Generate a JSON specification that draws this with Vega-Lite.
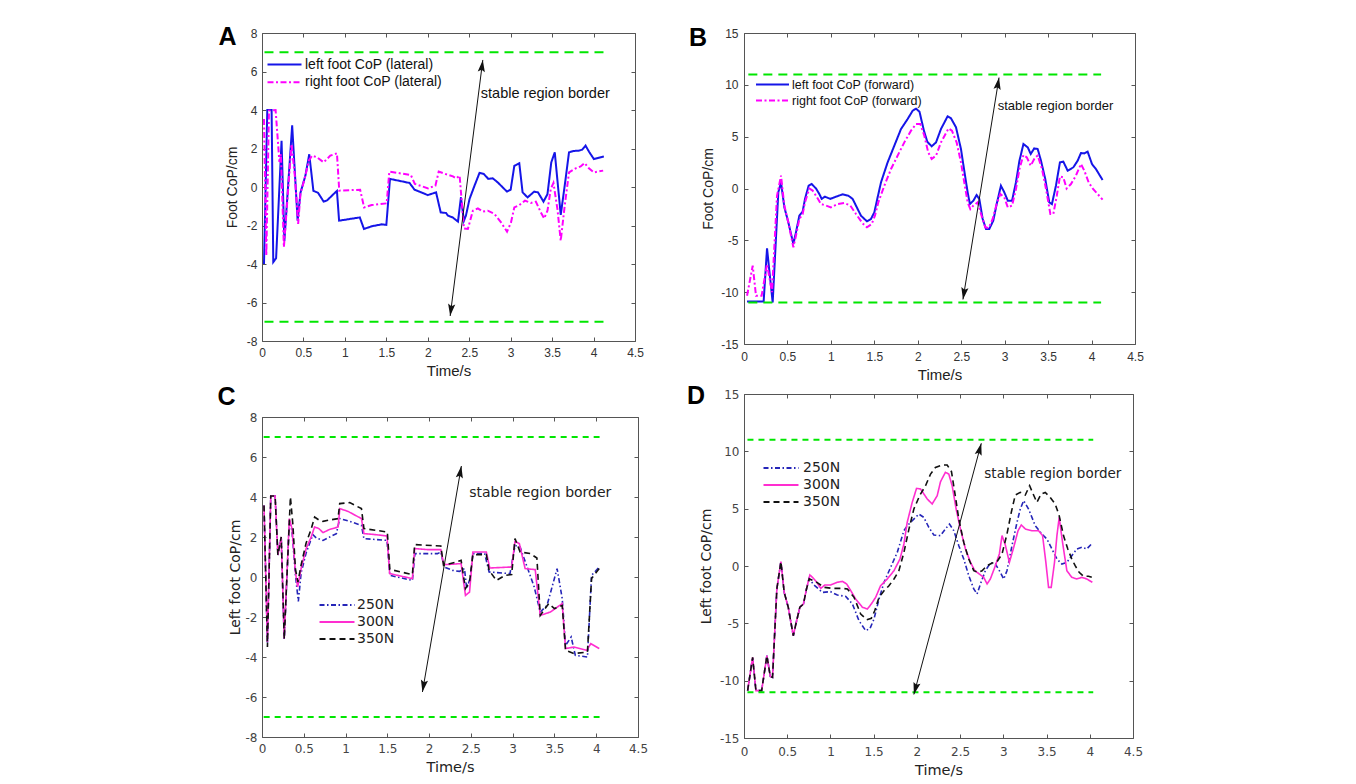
{
"$schema": "https://vega.github.io/schema/vega-lite/v6.json",
"background": "white",
"padding": {"left": 216, "top": 24, "right": 0, "bottom": 0},
"config": {"view": {"stroke": "#555", "strokeWidth": 1}, "axis": {"grid": false, "domain": false, "tickSize": -4, "tickColor": "#555", "tickWidth": 1, "labelFlush": false, "labelOverlap": false, "labelColor": "#333", "titleFontWeight": "normal", "titleColor": "#222", "labelFontSize": 12}},
"spacing": 37,
"resolve": {"scale": {"x": "independent", "y": "independent", "color": "independent", "strokeDash": "independent"}},
"datasets": {
"A": [
{"series":"left foot CoP (lateral)","t":0.024,"v":-4.0},{"series":"left foot CoP (lateral)","t":0.064,"v":4.0},{"series":"left foot CoP (lateral)","t":0.116,"v":4.0},{"series":"left foot CoP (lateral)","t":0.136,"v":-3.9},{"series":"left foot CoP (lateral)","t":0.17,"v":-3.7},{"series":"left foot CoP (lateral)","t":0.236,"v":2.4},{"series":"left foot CoP (lateral)","t":0.27,"v":-2.8},{"series":"left foot CoP (lateral)","t":0.364,"v":3.2},{"series":"left foot CoP (lateral)","t":0.43,"v":-1.75},{"series":"left foot CoP (lateral)","t":0.464,"v":-0.3},{"series":"left foot CoP (lateral)","t":0.524,"v":0.6},{"series":"left foot CoP (lateral)","t":0.57,"v":1.7},{"series":"left foot CoP (lateral)","t":0.62,"v":-0.2},{"series":"left foot CoP (lateral)","t":0.676,"v":-0.3},{"series":"left foot CoP (lateral)","t":0.744,"v":-0.76},{"series":"left foot CoP (lateral)","t":0.784,"v":-0.7},{"series":"left foot CoP (lateral)","t":0.904,"v":-0.2},{"series":"left foot CoP (lateral)","t":0.93,"v":-1.75},{"series":"left foot CoP (lateral)","t":1.18,"v":-1.58},{"series":"left foot CoP (lateral)","t":1.23,"v":-2.18},{"series":"left foot CoP (lateral)","t":1.324,"v":-2.04},{"series":"left foot CoP (lateral)","t":1.444,"v":-1.94},{"series":"left foot CoP (lateral)","t":1.5,"v":-1.97},{"series":"left foot CoP (lateral)","t":1.544,"v":0.42},{"series":"left foot CoP (lateral)","t":1.78,"v":0.21},{"series":"left foot CoP (lateral)","t":1.84,"v":-0.14},{"series":"left foot CoP (lateral)","t":2.0,"v":-0.42},{"series":"left foot CoP (lateral)","t":2.1,"v":-0.28},{"series":"left foot CoP (lateral)","t":2.156,"v":-1.32},{"series":"left foot CoP (lateral)","t":2.22,"v":-1.35},{"series":"left foot CoP (lateral)","t":2.244,"v":-1.49},{"series":"left foot CoP (lateral)","t":2.3,"v":-1.58},{"series":"left foot CoP (lateral)","t":2.364,"v":-1.8},{"series":"left foot CoP (lateral)","t":2.4,"v":-0.54},{"series":"left foot CoP (lateral)","t":2.436,"v":-1.75},{"series":"left foot CoP (lateral)","t":2.46,"v":-1.49},{"series":"left foot CoP (lateral)","t":2.504,"v":-0.62},{"series":"left foot CoP (lateral)","t":2.564,"v":0.07},{"series":"left foot CoP (lateral)","t":2.624,"v":0.73},{"series":"left foot CoP (lateral)","t":2.676,"v":0.68},{"series":"left foot CoP (lateral)","t":2.73,"v":0.42},{"series":"left foot CoP (lateral)","t":2.784,"v":0.45},{"series":"left foot CoP (lateral)","t":2.844,"v":0.24},{"series":"left foot CoP (lateral)","t":2.904,"v":-0.02},{"series":"left foot CoP (lateral)","t":2.956,"v":-0.24},{"series":"left foot CoP (lateral)","t":3.0,"v":-0.14},{"series":"left foot CoP (lateral)","t":3.044,"v":1.1},{"series":"left foot CoP (lateral)","t":3.104,"v":1.23},{"series":"left foot CoP (lateral)","t":3.144,"v":-0.28},{"series":"left foot CoP (lateral)","t":3.204,"v":-0.54},{"series":"left foot CoP (lateral)","t":3.284,"v":-0.24},{"series":"left foot CoP (lateral)","t":3.33,"v":-0.28},{"series":"left foot CoP (lateral)","t":3.396,"v":-0.76},{"series":"left foot CoP (lateral)","t":3.444,"v":-0.37},{"series":"left foot CoP (lateral)","t":3.49,"v":1.28},{"series":"left foot CoP (lateral)","t":3.532,"v":1.8},{"series":"left foot CoP (lateral)","t":3.604,"v":-1.45},{"series":"left foot CoP (lateral)","t":3.652,"v":0.07},{"series":"left foot CoP (lateral)","t":3.704,"v":1.8},{"series":"left foot CoP (lateral)","t":3.756,"v":1.87},{"series":"left foot CoP (lateral)","t":3.824,"v":1.89},{"series":"left foot CoP (lateral)","t":3.864,"v":1.94},{"series":"left foot CoP (lateral)","t":3.904,"v":2.15},{"series":"left foot CoP (lateral)","t":3.944,"v":1.84},{"series":"left foot CoP (lateral)","t":4.004,"v":1.45},{"series":"left foot CoP (lateral)","t":4.124,"v":1.59},
{"series":"right foot CoP (lateral)","t":0.024,"v":3.53},{"series":"right foot CoP (lateral)","t":0.052,"v":-3.57},{"series":"right foot CoP (lateral)","t":0.084,"v":3.97},{"series":"right foot CoP (lateral)","t":0.164,"v":4.0},{"series":"right foot CoP (lateral)","t":0.21,"v":1.3},{"series":"right foot CoP (lateral)","t":0.228,"v":1.7},{"series":"right foot CoP (lateral)","t":0.264,"v":-3.13},{"series":"right foot CoP (lateral)","t":0.316,"v":-0.1},{"series":"right foot CoP (lateral)","t":0.356,"v":2.23},{"series":"right foot CoP (lateral)","t":0.396,"v":0.59},{"series":"right foot CoP (lateral)","t":0.436,"v":-1.92},{"series":"right foot CoP (lateral)","t":0.464,"v":-0.36},{"series":"right foot CoP (lateral)","t":0.524,"v":0.59},{"series":"right foot CoP (lateral)","t":0.564,"v":1.37},{"series":"right foot CoP (lateral)","t":0.604,"v":1.63},{"series":"right foot CoP (lateral)","t":0.664,"v":1.54},{"series":"right foot CoP (lateral)","t":0.744,"v":1.28},{"series":"right foot CoP (lateral)","t":0.824,"v":1.63},{"series":"right foot CoP (lateral)","t":0.904,"v":1.75},{"series":"right foot CoP (lateral)","t":0.932,"v":-0.19},{"series":"right foot CoP (lateral)","t":1.184,"v":-0.14},{"series":"right foot CoP (lateral)","t":1.232,"v":-1.06},{"series":"right foot CoP (lateral)","t":1.324,"v":-0.94},{"series":"right foot CoP (lateral)","t":1.504,"v":-0.85},{"series":"right foot CoP (lateral)","t":1.536,"v":0.8},{"series":"right foot CoP (lateral)","t":1.796,"v":0.62},{"series":"right foot CoP (lateral)","t":1.844,"v":0.16},{"series":"right foot CoP (lateral)","t":2.004,"v":-0.07},{"series":"right foot CoP (lateral)","t":2.092,"v":0.07},{"series":"right foot CoP (lateral)","t":2.132,"v":0.8},{"series":"right foot CoP (lateral)","t":2.224,"v":0.66},{"series":"right foot CoP (lateral)","t":2.304,"v":0.55},{"series":"right foot CoP (lateral)","t":2.344,"v":0.45},{"series":"right foot CoP (lateral)","t":2.384,"v":0.59},{"series":"right foot CoP (lateral)","t":2.436,"v":-2.15},{"series":"right foot CoP (lateral)","t":2.484,"v":-2.18},{"series":"right foot CoP (lateral)","t":2.544,"v":-1.23},{"series":"right foot CoP (lateral)","t":2.604,"v":-1.11},{"series":"right foot CoP (lateral)","t":2.664,"v":-1.28},{"series":"right foot CoP (lateral)","t":2.724,"v":-1.23},{"series":"right foot CoP (lateral)","t":2.804,"v":-1.4},{"series":"right foot CoP (lateral)","t":2.884,"v":-1.84},{"series":"right foot CoP (lateral)","t":2.956,"v":-2.32},{"series":"right foot CoP (lateral)","t":3.004,"v":-1.84},{"series":"right foot CoP (lateral)","t":3.044,"v":-1.06},{"series":"right foot CoP (lateral)","t":3.104,"v":-0.94},{"series":"right foot CoP (lateral)","t":3.172,"v":-0.71},{"series":"right foot CoP (lateral)","t":3.244,"v":-0.83},{"series":"right foot CoP (lateral)","t":3.304,"v":-0.76},{"series":"right foot CoP (lateral)","t":3.364,"v":-1.32},{"series":"right foot CoP (lateral)","t":3.404,"v":-1.63},{"series":"right foot CoP (lateral)","t":3.444,"v":-1.23},{"series":"right foot CoP (lateral)","t":3.484,"v":-0.1},{"series":"right foot CoP (lateral)","t":3.516,"v":0.21},{"series":"right foot CoP (lateral)","t":3.564,"v":-1.14},{"series":"right foot CoP (lateral)","t":3.604,"v":-2.79},{"series":"right foot CoP (lateral)","t":3.652,"v":-0.97},{"series":"right foot CoP (lateral)","t":3.704,"v":0.76},{"series":"right foot CoP (lateral)","t":3.784,"v":0.97},{"series":"right foot CoP (lateral)","t":3.844,"v":1.07},{"series":"right foot CoP (lateral)","t":3.892,"v":1.25},{"series":"right foot CoP (lateral)","t":3.944,"v":0.97},{"series":"right foot CoP (lateral)","t":4.004,"v":0.76},{"series":"right foot CoP (lateral)","t":4.116,"v":0.85}
],
"B": [
{"series":"left foot CoP (forward)","t":0.035,"v":-10.9},{"series":"left foot CoP (forward)","t":0.226,"v":-10.9},{"series":"left foot CoP (forward)","t":0.265,"v":-5.77},{"series":"left foot CoP (forward)","t":0.33,"v":-11.0},{"series":"left foot CoP (forward)","t":0.395,"v":-0.37},{"series":"left foot CoP (forward)","t":0.426,"v":0.6},{"series":"left foot CoP (forward)","t":0.464,"v":-1.8},{"series":"left foot CoP (forward)","t":0.51,"v":-3.26},{"series":"left foot CoP (forward)","t":0.568,"v":-5.35},{"series":"left foot CoP (forward)","t":0.598,"v":-4.23},{"series":"left foot CoP (forward)","t":0.637,"v":-2.62},{"series":"left foot CoP (forward)","t":0.675,"v":-2.23},{"series":"left foot CoP (forward)","t":0.702,"v":-1.0},{"series":"left foot CoP (forward)","t":0.744,"v":0.27},{"series":"left foot CoP (forward)","t":0.779,"v":0.43},{"series":"left foot CoP (forward)","t":0.829,"v":0.0},{"series":"left foot CoP (forward)","t":0.867,"v":-0.53},{"series":"left foot CoP (forward)","t":0.894,"v":-1.0},{"series":"left foot CoP (forward)","t":0.932,"v":-0.79},{"series":"left foot CoP (forward)","t":0.993,"v":-1.0},{"series":"left foot CoP (forward)","t":1.059,"v":-0.79},{"series":"left foot CoP (forward)","t":1.135,"v":-0.56},{"series":"left foot CoP (forward)","t":1.2,"v":-0.69},{"series":"left foot CoP (forward)","t":1.25,"v":-1.0},{"series":"left foot CoP (forward)","t":1.289,"v":-1.66},{"series":"left foot CoP (forward)","t":1.346,"v":-2.62},{"series":"left foot CoP (forward)","t":1.415,"v":-3.17},{"series":"left foot CoP (forward)","t":1.461,"v":-2.94},{"series":"left foot CoP (forward)","t":1.5,"v":-2.3},{"series":"left foot CoP (forward)","t":1.538,"v":-0.85},{"series":"left foot CoP (forward)","t":1.577,"v":0.6},{"series":"left foot CoP (forward)","t":1.653,"v":2.52},{"series":"left foot CoP (forward)","t":1.73,"v":4.13},{"series":"left foot CoP (forward)","t":1.807,"v":5.74},{"series":"left foot CoP (forward)","t":1.883,"v":6.7},{"series":"left foot CoP (forward)","t":1.941,"v":7.5},{"series":"left foot CoP (forward)","t":1.98,"v":7.7},{"series":"left foot CoP (forward)","t":2.02,"v":7.4},{"series":"left foot CoP (forward)","t":2.07,"v":5.6},{"series":"left foot CoP (forward)","t":2.11,"v":4.5},{"series":"left foot CoP (forward)","t":2.16,"v":4.07},{"series":"left foot CoP (forward)","t":2.21,"v":4.45},{"series":"left foot CoP (forward)","t":2.267,"v":5.74},{"series":"left foot CoP (forward)","t":2.343,"v":6.96},{"series":"left foot CoP (forward)","t":2.382,"v":6.77},{"series":"left foot CoP (forward)","t":2.44,"v":5.9},{"series":"left foot CoP (forward)","t":2.497,"v":3.81},{"series":"left foot CoP (forward)","t":2.535,"v":1.72},{"series":"left foot CoP (forward)","t":2.574,"v":-0.37},{"series":"left foot CoP (forward)","t":2.6,"v":-1.5},{"series":"left foot CoP (forward)","t":2.64,"v":-1.17},{"series":"left foot CoP (forward)","t":2.677,"v":-0.63},{"series":"left foot CoP (forward)","t":2.708,"v":-1.01},{"series":"left foot CoP (forward)","t":2.747,"v":-2.94},{"series":"left foot CoP (forward)","t":2.785,"v":-3.9},{"series":"left foot CoP (forward)","t":2.823,"v":-3.9},{"series":"left foot CoP (forward)","t":2.869,"v":-3.1},{"series":"left foot CoP (forward)","t":2.908,"v":-1.5},{"series":"left foot CoP (forward)","t":2.957,"v":0.27},{"series":"left foot CoP (forward)","t":2.996,"v":-0.37},{"series":"left foot CoP (forward)","t":3.036,"v":-1.17},{"series":"left foot CoP (forward)","t":3.085,"v":-1.17},{"series":"left foot CoP (forward)","t":3.13,"v":0.6},{"series":"left foot CoP (forward)","t":3.17,"v":2.68},{"series":"left foot CoP (forward)","t":3.216,"v":4.29},{"series":"left foot CoP (forward)","t":3.266,"v":3.97},{"series":"left foot CoP (forward)","t":3.3,"v":3.33},{"series":"left foot CoP (forward)","t":3.34,"v":3.87},{"series":"left foot CoP (forward)","t":3.38,"v":3.81},{"series":"left foot CoP (forward)","t":3.418,"v":2.68},{"series":"left foot CoP (forward)","t":3.467,"v":0.92},{"series":"left foot CoP (forward)","t":3.513,"v":-1.33},{"series":"left foot CoP (forward)","t":3.544,"v":-1.5},{"series":"left foot CoP (forward)","t":3.59,"v":0.27},{"series":"left foot CoP (forward)","t":3.636,"v":2.52},{"series":"left foot CoP (forward)","t":3.675,"v":2.59},{"series":"left foot CoP (forward)","t":3.725,"v":1.72},{"series":"left foot CoP (forward)","t":3.79,"v":2.04},{"series":"left foot CoP (forward)","t":3.84,"v":2.68},{"series":"left foot CoP (forward)","t":3.878,"v":3.42},{"series":"left foot CoP (forward)","t":3.917,"v":3.39},{"series":"left foot CoP (forward)","t":3.955,"v":3.55},{"series":"left foot CoP (forward)","t":4.005,"v":2.36},{"series":"left foot CoP (forward)","t":4.05,"v":1.88},{"series":"left foot CoP (forward)","t":4.127,"v":0.82},
{"series":"right foot CoP (forward)","t":0.035,"v":-10.34},{"series":"right foot CoP (forward)","t":0.1,"v":-7.45},{"series":"right foot CoP (forward)","t":0.138,"v":-10.34},{"series":"right foot CoP (forward)","t":0.203,"v":-10.34},{"series":"right foot CoP (forward)","t":0.265,"v":-7.3},{"series":"right foot CoP (forward)","t":0.322,"v":-10.0},{"series":"right foot CoP (forward)","t":0.38,"v":-0.7},{"series":"right foot CoP (forward)","t":0.426,"v":1.24},{"series":"right foot CoP (forward)","t":0.464,"v":-1.65},{"series":"right foot CoP (forward)","t":0.51,"v":-3.26},{"series":"right foot CoP (forward)","t":0.568,"v":-5.67},{"series":"right foot CoP (forward)","t":0.598,"v":-4.55},{"series":"right foot CoP (forward)","t":0.637,"v":-2.94},{"series":"right foot CoP (forward)","t":0.675,"v":-2.46},{"series":"right foot CoP (forward)","t":0.702,"v":-1.33},{"series":"right foot CoP (forward)","t":0.752,"v":0.0},{"series":"right foot CoP (forward)","t":0.79,"v":-0.2},{"series":"right foot CoP (forward)","t":0.84,"v":-0.85},{"series":"right foot CoP (forward)","t":0.886,"v":-1.5},{"series":"right foot CoP (forward)","t":0.944,"v":-1.65},{"series":"right foot CoP (forward)","t":1.0,"v":-1.82},{"series":"right foot CoP (forward)","t":1.078,"v":-1.5},{"series":"right foot CoP (forward)","t":1.155,"v":-1.4},{"series":"right foot CoP (forward)","t":1.224,"v":-1.65},{"series":"right foot CoP (forward)","t":1.289,"v":-2.46},{"series":"right foot CoP (forward)","t":1.365,"v":-3.36},{"series":"right foot CoP (forward)","t":1.415,"v":-3.74},{"series":"right foot CoP (forward)","t":1.47,"v":-3.42},{"series":"right foot CoP (forward)","t":1.507,"v":-2.62},{"series":"right foot CoP (forward)","t":1.546,"v":-1.33},{"series":"right foot CoP (forward)","t":1.615,"v":0.27},{"series":"right foot CoP (forward)","t":1.692,"v":1.88},{"series":"right foot CoP (forward)","t":1.768,"v":3.17},{"series":"right foot CoP (forward)","t":1.845,"v":4.45},{"series":"right foot CoP (forward)","t":1.922,"v":5.58},{"series":"right foot CoP (forward)","t":1.98,"v":6.22},{"series":"right foot CoP (forward)","t":2.03,"v":6.22},{"series":"right foot CoP (forward)","t":2.075,"v":5.1},{"series":"right foot CoP (forward)","t":2.12,"v":3.49},{"series":"right foot CoP (forward)","t":2.16,"v":2.85},{"series":"right foot CoP (forward)","t":2.21,"v":3.17},{"series":"right foot CoP (forward)","t":2.267,"v":4.45},{"series":"right foot CoP (forward)","t":2.354,"v":5.8},{"series":"right foot CoP (forward)","t":2.393,"v":5.58},{"series":"right foot CoP (forward)","t":2.447,"v":4.45},{"series":"right foot CoP (forward)","t":2.497,"v":2.52},{"series":"right foot CoP (forward)","t":2.535,"v":0.6},{"series":"right foot CoP (forward)","t":2.574,"v":-1.33},{"series":"right foot CoP (forward)","t":2.605,"v":-1.98},{"series":"right foot CoP (forward)","t":2.64,"v":-1.65},{"series":"right foot CoP (forward)","t":2.69,"v":-1.33},{"series":"right foot CoP (forward)","t":2.728,"v":-2.46},{"series":"right foot CoP (forward)","t":2.777,"v":-3.74},{"series":"right foot CoP (forward)","t":2.816,"v":-3.81},{"series":"right foot CoP (forward)","t":2.862,"v":-2.94},{"series":"right foot CoP (forward)","t":2.908,"v":-1.5},{"series":"right foot CoP (forward)","t":2.95,"v":-0.53},{"series":"right foot CoP (forward)","t":2.996,"v":-0.85},{"series":"right foot CoP (forward)","t":3.036,"v":-1.82},{"series":"right foot CoP (forward)","t":3.085,"v":-1.65},{"series":"right foot CoP (forward)","t":3.13,"v":-0.05},{"series":"right foot CoP (forward)","t":3.17,"v":1.88},{"series":"right foot CoP (forward)","t":3.216,"v":3.23},{"series":"right foot CoP (forward)","t":3.255,"v":3.0},{"series":"right foot CoP (forward)","t":3.3,"v":2.2},{"series":"right foot CoP (forward)","t":3.35,"v":3.0},{"series":"right foot CoP (forward)","t":3.38,"v":3.17},{"series":"right foot CoP (forward)","t":3.43,"v":1.88},{"series":"right foot CoP (forward)","t":3.476,"v":-0.05},{"series":"right foot CoP (forward)","t":3.526,"v":-2.46},{"series":"right foot CoP (forward)","t":3.56,"v":-2.46},{"series":"right foot CoP (forward)","t":3.6,"v":-0.69},{"series":"right foot CoP (forward)","t":3.636,"v":1.17},{"series":"right foot CoP (forward)","t":3.675,"v":1.07},{"series":"right foot CoP (forward)","t":3.713,"v":0.0},{"series":"right foot CoP (forward)","t":3.763,"v":0.43},{"series":"right foot CoP (forward)","t":3.82,"v":1.24},{"series":"right foot CoP (forward)","t":3.878,"v":2.36},{"series":"right foot CoP (forward)","t":3.917,"v":1.72},{"series":"right foot CoP (forward)","t":3.966,"v":0.6},{"series":"right foot CoP (forward)","t":4.012,"v":0.0},{"series":"right foot CoP (forward)","t":4.07,"v":-0.53},{"series":"right foot CoP (forward)","t":4.127,"v":-1.08}
],
"C": [
{"series":"250N","t":0.024,"v":3.58},{"series":"250N","t":0.065,"v":-3.3},{"series":"250N","t":0.105,"v":4.05},{"series":"250N","t":0.157,"v":4.05},{"series":"250N","t":0.19,"v":1.1},{"series":"250N","t":0.23,"v":2.0},{"series":"250N","t":0.266,"v":-3.1},{"series":"250N","t":0.327,"v":2.8},{"series":"250N","t":0.359,"v":2.3},{"series":"250N","t":0.4,"v":0.1},{"series":"250N","t":0.435,"v":-1.22},{"series":"250N","t":0.468,"v":0.2},{"series":"250N","t":0.528,"v":1.2},{"series":"250N","t":0.609,"v":2.12},{"series":"250N","t":0.65,"v":1.95},{"series":"250N","t":0.73,"v":1.83},{"series":"250N","t":0.89,"v":2.17},{"series":"250N","t":0.93,"v":2.92},{"series":"250N","t":1.05,"v":2.78},{"series":"250N","t":1.19,"v":2.58},{"series":"250N","t":1.22,"v":1.92},{"series":"250N","t":1.496,"v":1.83},{"series":"250N","t":1.53,"v":0.08},{"series":"250N","t":1.8,"v":-0.17},{"series":"250N","t":1.83,"v":1.17},{"series":"250N","t":2.1,"v":1.17},{"series":"250N","t":2.14,"v":1.25},{"series":"250N","t":2.18,"v":0.5},{"series":"250N","t":2.282,"v":0.33},{"series":"250N","t":2.363,"v":0.28},{"series":"250N","t":2.423,"v":0.42},{"series":"250N","t":2.45,"v":-0.58},{"series":"250N","t":2.49,"v":-0.08},{"series":"250N","t":2.524,"v":1.17},{"series":"250N","t":2.665,"v":1.17},{"series":"250N","t":2.718,"v":0.25},{"series":"250N","t":2.968,"v":0.17},{"series":"250N","t":3.028,"v":1.58},{"series":"250N","t":3.089,"v":1.5},{"series":"250N","t":3.137,"v":0.92},{"series":"250N","t":3.169,"v":0.55},{"series":"250N","t":3.258,"v":-0.5},{"series":"250N","t":3.33,"v":-1.75},{"series":"250N","t":3.411,"v":-1.42},{"series":"250N","t":3.532,"v":0.42},{"series":"250N","t":3.593,"v":-1.08},{"series":"250N","t":3.633,"v":-3.42},{"series":"250N","t":3.7,"v":-3.0},{"series":"250N","t":3.75,"v":-3.92},{"series":"250N","t":3.895,"v":-4.0},{"series":"250N","t":3.944,"v":0.08},{"series":"250N","t":4.036,"v":0.5},
{"series":"300N","t":0.024,"v":3.58},{"series":"300N","t":0.065,"v":-3.25},{"series":"300N","t":0.105,"v":4.05},{"series":"300N","t":0.157,"v":4.05},{"series":"300N","t":0.19,"v":1.1},{"series":"300N","t":0.23,"v":2.0},{"series":"300N","t":0.266,"v":-3.08},{"series":"300N","t":0.327,"v":2.92},{"series":"300N","t":0.359,"v":2.42},{"series":"300N","t":0.4,"v":0.25},{"series":"300N","t":0.427,"v":-0.5},{"series":"300N","t":0.468,"v":0.42},{"series":"300N","t":0.528,"v":1.42},{"series":"300N","t":0.589,"v":2.0},{"series":"300N","t":0.629,"v":2.5},{"series":"300N","t":0.681,"v":2.42},{"series":"300N","t":0.73,"v":2.22},{"series":"300N","t":0.81,"v":2.38},{"series":"300N","t":0.911,"v":2.5},{"series":"300N","t":0.931,"v":3.42},{"series":"300N","t":1.03,"v":3.28},{"series":"300N","t":1.19,"v":2.92},{"series":"300N","t":1.22,"v":2.17},{"series":"300N","t":1.355,"v":2.12},{"series":"300N","t":1.496,"v":2.05},{"series":"300N","t":1.528,"v":0.17},{"series":"300N","t":1.657,"v":0.05},{"series":"300N","t":1.8,"v":-0.08},{"series":"300N","t":1.827,"v":1.42},{"series":"300N","t":1.98,"v":1.37},{"series":"300N","t":2.14,"v":1.37},{"series":"300N","t":2.173,"v":0.67},{"series":"300N","t":2.2,"v":0.62},{"series":"300N","t":2.383,"v":0.67},{"series":"300N","t":2.435,"v":-0.92},{"series":"300N","t":2.484,"v":-0.75},{"series":"300N","t":2.524,"v":1.25},{"series":"300N","t":2.685,"v":1.25},{"series":"300N","t":2.726,"v":0.45},{"series":"300N","t":2.988,"v":0.5},{"series":"300N","t":3.028,"v":1.78},{"series":"300N","t":3.08,"v":1.67},{"series":"300N","t":3.149,"v":0.42},{"series":"300N","t":3.27,"v":0.37},{"series":"300N","t":3.33,"v":-1.92},{"series":"300N","t":3.452,"v":-1.75},{"series":"300N","t":3.593,"v":-1.33},{"series":"300N","t":3.633,"v":-3.58},{"series":"300N","t":3.734,"v":-3.5},{"series":"300N","t":3.887,"v":-3.67},{"series":"300N","t":3.935,"v":-3.33},{"series":"300N","t":4.036,"v":-3.58},
{"series":"350N","t":0.024,"v":3.58},{"series":"350N","t":0.065,"v":-3.5},{"series":"350N","t":0.105,"v":4.05},{"series":"350N","t":0.157,"v":4.05},{"series":"350N","t":0.19,"v":1.1},{"series":"350N","t":0.23,"v":2.0},{"series":"350N","t":0.266,"v":-3.1},{"series":"350N","t":0.34,"v":4.0},{"series":"350N","t":0.37,"v":2.6},{"series":"350N","t":0.4,"v":0.4},{"series":"350N","t":0.43,"v":-0.25},{"series":"350N","t":0.468,"v":0.6},{"series":"350N","t":0.528,"v":1.7},{"series":"350N","t":0.589,"v":2.4},{"series":"350N","t":0.63,"v":3.0},{"series":"350N","t":0.681,"v":2.85},{"series":"350N","t":0.73,"v":2.78},{"series":"350N","t":0.81,"v":2.85},{"series":"350N","t":0.91,"v":2.92},{"series":"350N","t":0.93,"v":3.67},{"series":"350N","t":1.05,"v":3.72},{"series":"350N","t":1.19,"v":3.42},{"series":"350N","t":1.22,"v":2.42},{"series":"350N","t":1.5,"v":2.25},{"series":"350N","t":1.53,"v":0.38},{"series":"350N","t":1.8,"v":0.12},{"series":"350N","t":1.827,"v":1.62},{"series":"350N","t":2.14,"v":1.55},{"series":"350N","t":2.173,"v":0.58},{"series":"350N","t":2.323,"v":0.75},{"series":"350N","t":2.383,"v":0.83},{"series":"350N","t":2.435,"v":-0.58},{"series":"350N","t":2.484,"v":-0.25},{"series":"350N","t":2.524,"v":1.12},{"series":"350N","t":2.685,"v":1.12},{"series":"350N","t":2.718,"v":0.33},{"series":"350N","t":2.806,"v":-0.17},{"series":"350N","t":2.907,"v":0.08},{"series":"350N","t":2.988,"v":0.12},{"series":"350N","t":3.028,"v":1.92},{"series":"350N","t":3.089,"v":1.25},{"series":"350N","t":3.21,"v":1.17},{"series":"350N","t":3.29,"v":0.95},{"series":"350N","t":3.33,"v":-1.92},{"series":"350N","t":3.431,"v":-1.33},{"series":"350N","t":3.5,"v":-1.58},{"series":"350N","t":3.593,"v":-1.42},{"series":"350N","t":3.633,"v":-3.67},{"series":"350N","t":3.734,"v":-3.83},{"series":"350N","t":3.895,"v":-3.75},{"series":"350N","t":3.944,"v":-0.08},{"series":"350N","t":4.036,"v":0.42}
],
"D": [
{"series":"250N","t":0.042,"v":-10.87},{"series":"250N","t":0.1,"v":-7.97},{"series":"250N","t":0.138,"v":-10.87},{"series":"250N","t":0.204,"v":-10.87},{"series":"250N","t":0.265,"v":-7.82},{"series":"250N","t":0.304,"v":-9.62},{"series":"250N","t":0.33,"v":-9.7},{"series":"250N","t":0.38,"v":-2.0},{"series":"250N","t":0.427,"v":0.38},{"series":"250N","t":0.465,"v":-2.3},{"series":"250N","t":0.512,"v":-3.6},{"series":"250N","t":0.57,"v":-6.08},{"series":"250N","t":0.6,"v":-5.06},{"series":"250N","t":0.646,"v":-3.6},{"series":"250N","t":0.688,"v":-3.31},{"series":"250N","t":0.723,"v":-2.0},{"series":"250N","t":0.754,"v":-1.1},{"series":"250N","t":0.81,"v":-1.66},{"series":"250N","t":0.908,"v":-2.3},{"series":"250N","t":1.0,"v":-2.24},{"series":"250N","t":1.08,"v":-2.53},{"series":"250N","t":1.177,"v":-2.65},{"series":"250N","t":1.254,"v":-3.31},{"series":"250N","t":1.33,"v":-4.77},{"series":"250N","t":1.408,"v":-5.64},{"series":"250N","t":1.458,"v":-5.44},{"series":"250N","t":1.504,"v":-4.62},{"series":"250N","t":1.562,"v":-2.88},{"series":"250N","t":1.62,"v":-1.42},{"series":"250N","t":1.696,"v":-0.12},{"series":"250N","t":1.773,"v":1.19},{"series":"250N","t":1.85,"v":3.08},{"series":"250N","t":1.89,"v":3.52},{"series":"250N","t":1.946,"v":3.95},{"series":"250N","t":2.023,"v":4.53},{"series":"250N","t":2.08,"v":4.24},{"series":"250N","t":2.138,"v":3.37},{"series":"250N","t":2.196,"v":2.7},{"series":"250N","t":2.273,"v":2.65},{"series":"250N","t":2.33,"v":3.23},{"series":"250N","t":2.377,"v":3.66},{"series":"250N","t":2.427,"v":3.08},{"series":"250N","t":2.485,"v":1.77},{"series":"250N","t":2.542,"v":0.61},{"series":"250N","t":2.6,"v":-0.84},{"series":"250N","t":2.658,"v":-2.0},{"series":"250N","t":2.696,"v":-2.44},{"series":"250N","t":2.735,"v":-1.57},{"series":"250N","t":2.792,"v":-0.41},{"series":"250N","t":2.85,"v":0.26},{"series":"250N","t":2.908,"v":0.17},{"series":"250N","t":2.965,"v":-0.55},{"series":"250N","t":3.004,"v":-1.13},{"series":"250N","t":3.042,"v":-0.41},{"series":"250N","t":3.1,"v":1.77},{"series":"250N","t":3.158,"v":3.8},{"series":"250N","t":3.196,"v":4.97},{"series":"250N","t":3.235,"v":5.7},{"series":"250N","t":3.292,"v":4.97},{"series":"250N","t":3.369,"v":3.52},{"series":"250N","t":3.446,"v":2.79},{"series":"250N","t":3.504,"v":2.35},{"series":"250N","t":3.562,"v":1.48},{"series":"250N","t":3.62,"v":0.61},{"series":"250N","t":3.677,"v":0.17},{"series":"250N","t":3.735,"v":0.32},{"series":"250N","t":3.792,"v":0.9},{"series":"250N","t":3.85,"v":1.48},{"series":"250N","t":3.908,"v":1.63},{"series":"250N","t":3.965,"v":1.48},{"series":"250N","t":4.03,"v":2.0},
{"series":"300N","t":0.042,"v":-10.87},{"series":"300N","t":0.1,"v":-7.97},{"series":"300N","t":0.138,"v":-10.87},{"series":"300N","t":0.204,"v":-10.87},{"series":"300N","t":0.265,"v":-7.82},{"series":"300N","t":0.304,"v":-9.62},{"series":"300N","t":0.33,"v":-9.7},{"series":"300N","t":0.38,"v":-2.0},{"series":"300N","t":0.427,"v":0.38},{"series":"300N","t":0.465,"v":-2.3},{"series":"300N","t":0.512,"v":-3.6},{"series":"300N","t":0.57,"v":-6.08},{"series":"300N","t":0.6,"v":-5.06},{"series":"300N","t":0.646,"v":-3.6},{"series":"300N","t":0.688,"v":-3.31},{"series":"300N","t":0.723,"v":-2.0},{"series":"300N","t":0.762,"v":-0.78},{"series":"300N","t":0.792,"v":-0.99},{"series":"300N","t":0.842,"v":-1.42},{"series":"300N","t":0.888,"v":-1.95},{"series":"300N","t":0.935,"v":-1.66},{"series":"300N","t":1.0,"v":-1.66},{"series":"300N","t":1.08,"v":-1.42},{"series":"300N","t":1.138,"v":-1.34},{"series":"300N","t":1.188,"v":-1.57},{"series":"300N","t":1.235,"v":-2.15},{"series":"300N","t":1.292,"v":-2.88},{"series":"300N","t":1.37,"v":-3.6},{"series":"300N","t":1.427,"v":-3.75},{"series":"300N","t":1.473,"v":-3.31},{"series":"300N","t":1.523,"v":-2.73},{"series":"300N","t":1.58,"v":-1.72},{"series":"300N","t":1.658,"v":-1.13},{"series":"300N","t":1.735,"v":-0.41},{"series":"300N","t":1.804,"v":0.61},{"series":"300N","t":1.85,"v":1.92},{"series":"300N","t":1.888,"v":3.81},{"series":"300N","t":1.946,"v":5.55},{"series":"300N","t":1.996,"v":6.77},{"series":"300N","t":2.042,"v":6.72},{"series":"300N","t":2.12,"v":5.84},{"series":"300N","t":2.177,"v":5.41},{"series":"300N","t":2.235,"v":6.13},{"series":"300N","t":2.273,"v":7.35},{"series":"300N","t":2.33,"v":8.17},{"series":"300N","t":2.369,"v":8.02},{"series":"300N","t":2.408,"v":7.0},{"series":"300N","t":2.454,"v":4.97},{"series":"300N","t":2.504,"v":3.22},{"series":"300N","t":2.562,"v":1.48},{"series":"300N","t":2.62,"v":0.32},{"series":"300N","t":2.67,"v":-0.41},{"series":"300N","t":2.723,"v":-0.7},{"series":"300N","t":2.773,"v":-0.99},{"series":"300N","t":2.812,"v":-1.57},{"series":"300N","t":2.85,"v":-1.13},{"series":"300N","t":2.908,"v":0.03},{"series":"300N","t":2.954,"v":1.05},{"series":"300N","t":2.985,"v":2.65},{"series":"300N","t":3.023,"v":1.83},{"series":"300N","t":3.07,"v":0.32},{"series":"300N","t":3.12,"v":1.63},{"series":"300N","t":3.17,"v":3.08},{"series":"300N","t":3.208,"v":3.58},{"series":"300N","t":3.255,"v":3.23},{"series":"300N","t":3.33,"v":3.08},{"series":"300N","t":3.408,"v":3.08},{"series":"300N","t":3.454,"v":2.65},{"series":"300N","t":3.492,"v":0.32},{"series":"300N","t":3.523,"v":-1.86},{"series":"300N","t":3.554,"v":-1.86},{"series":"300N","t":3.592,"v":0.32},{"series":"300N","t":3.62,"v":2.65},{"series":"300N","t":3.646,"v":4.24},{"series":"300N","t":3.685,"v":2.06},{"series":"300N","t":3.735,"v":-0.41},{"series":"300N","t":3.792,"v":-0.99},{"series":"300N","t":3.85,"v":-1.13},{"series":"300N","t":3.908,"v":-0.99},{"series":"300N","t":3.965,"v":-1.13},{"series":"300N","t":4.03,"v":-1.42},
{"series":"350N","t":0.042,"v":-10.87},{"series":"350N","t":0.1,"v":-7.97},{"series":"350N","t":0.138,"v":-10.87},{"series":"350N","t":0.204,"v":-10.87},{"series":"350N","t":0.265,"v":-7.82},{"series":"350N","t":0.304,"v":-9.62},{"series":"350N","t":0.33,"v":-9.7},{"series":"350N","t":0.38,"v":-2.0},{"series":"350N","t":0.427,"v":0.38},{"series":"350N","t":0.465,"v":-2.3},{"series":"350N","t":0.512,"v":-3.6},{"series":"350N","t":0.57,"v":-6.08},{"series":"350N","t":0.6,"v":-5.06},{"series":"350N","t":0.646,"v":-3.6},{"series":"350N","t":0.688,"v":-3.31},{"series":"350N","t":0.723,"v":-2.0},{"series":"350N","t":0.754,"v":-1.13},{"series":"350N","t":0.83,"v":-1.37},{"series":"350N","t":0.927,"v":-1.86},{"series":"350N","t":1.023,"v":-1.95},{"series":"350N","t":1.12,"v":-1.95},{"series":"350N","t":1.196,"v":-2.0},{"series":"350N","t":1.273,"v":-2.73},{"series":"350N","t":1.35,"v":-4.19},{"series":"350N","t":1.42,"v":-4.68},{"series":"350N","t":1.473,"v":-4.56},{"series":"350N","t":1.512,"v":-3.9},{"series":"350N","t":1.562,"v":-2.73},{"series":"350N","t":1.62,"v":-2.15},{"series":"350N","t":1.677,"v":-1.72},{"series":"350N","t":1.735,"v":-1.13},{"series":"350N","t":1.792,"v":-0.41},{"series":"350N","t":1.85,"v":1.19},{"series":"350N","t":1.908,"v":3.22},{"series":"350N","t":1.965,"v":4.97},{"series":"350N","t":2.035,"v":6.19},{"series":"350N","t":2.1,"v":7.0},{"series":"350N","t":2.158,"v":8.02},{"series":"350N","t":2.215,"v":8.6},{"series":"350N","t":2.292,"v":8.81},{"series":"350N","t":2.35,"v":8.81},{"series":"350N","t":2.4,"v":8.23},{"series":"350N","t":2.438,"v":6.42},{"series":"350N","t":2.485,"v":4.1},{"series":"350N","t":2.542,"v":2.06},{"series":"350N","t":2.6,"v":0.61},{"series":"350N","t":2.658,"v":-0.41},{"series":"350N","t":2.708,"v":-0.55},{"series":"350N","t":2.754,"v":-0.41},{"series":"350N","t":2.812,"v":0.03},{"series":"350N","t":2.87,"v":0.26},{"series":"350N","t":2.927,"v":0.38},{"series":"350N","t":2.985,"v":1.05},{"series":"350N","t":3.042,"v":2.79},{"series":"350N","t":3.092,"v":4.68},{"series":"350N","t":3.138,"v":6.19},{"series":"350N","t":3.196,"v":6.42},{"series":"350N","t":3.254,"v":6.19},{"series":"350N","t":3.304,"v":7.0},{"series":"350N","t":3.35,"v":6.19},{"series":"350N","t":3.388,"v":5.55},{"series":"350N","t":3.438,"v":6.28},{"series":"350N","t":3.485,"v":6.42},{"series":"350N","t":3.542,"v":5.99},{"series":"350N","t":3.6,"v":5.41},{"series":"350N","t":3.646,"v":4.39},{"series":"350N","t":3.696,"v":2.65},{"series":"350N","t":3.746,"v":1.48},{"series":"350N","t":3.792,"v":0.61},{"series":"350N","t":3.831,"v":0.03},{"series":"350N","t":3.877,"v":-0.55},{"series":"350N","t":3.927,"v":-0.9},{"series":"350N","t":3.985,"v":-0.9},{"series":"350N","t":4.023,"v":-0.99}
]
},
"hconcat": [
{"vconcat": [
{"width": 373, "height": 308,
 "layer": [
   {"data": {"name":"A"},
    "mark": {"type":"line","strokeWidth":2},
    "encoding": {
     "x":{"field":"t","type":"quantitative","scale":{"domain":[0,4.5],"nice":false},"axis":{"orient":"bottom","title":"Time/s","values":[0,0.5,1,1.5,2,2.5,3,3.5,4,4.5],"labelExpr":"'' + datum.value","labelPadding":10,"labelFont":"Liberation Sans","titleFont":"Liberation Sans","titleFontSize":15,"titlePadding":5}},
     "y":{"field":"v","type":"quantitative","scale":{"domain":[-8,8],"nice":false},"axis":{"orient":"left","title":"Foot CoP/cm","values":[-8,-6,-4,-2,0,2,4,6,8],"labelExpr":"'' + datum.value","labelPadding":9,"labelFont":"Liberation Sans","titleFont":"Liberation Sans","titleFontSize":14,"titlePadding":7}},
     "color":{"field":"series","type":"nominal","scale":{"domain":["left foot CoP (lateral)","right foot CoP (lateral)"],"range":["#1515e8","#ff00ff"]},"legend":{"orient":"none","legendX":6,"legendY":22,"title":null,"symbolType":"M-2,0H2","symbolSize":289,"symbolOffset":7,"symbolStrokeWidth":2,"labelFont":"Liberation Sans","labelFontSize":14,"labelColor":"#111","rowPadding":0.7,"labelOffset":11,"padding":0}},
     "strokeDash":{"field":"series","type":"nominal","scale":{"domain":["left foot CoP (lateral)","right foot CoP (lateral)"],"range":[[1,0],[6,2.5,2,2.5]]}}}},
   {"data": {"values": [{"t0":0.03,"t1":4.13,"v":7},{"t0":0.03,"t1":4.13,"v":-7}]},
    "mark": {"type":"rule","color":"#00e600","strokeWidth":2,"strokeDash":[9,6]},
    "encoding": {"x":{"field":"t0","type":"quantitative","scale":{"domain":[0,4.5],"nice":false},"axis":null},"x2":{"field":"t1"},"y":{"field":"v","type":"quantitative","scale":{"domain":[-8,8],"nice":false},"axis":null}}},
   {"data": {"values": [{"ta":2.27,"va":-6.7,"tb":2.664,"vb":6.6}]},
    "mark": {"type":"rule","color":"#111","strokeWidth":1},
    "encoding": {"x":{"field":"ta","type":"quantitative","scale":{"domain":[0,4.5],"nice":false},"axis":null},"y":{"field":"va","type":"quantitative","scale":{"domain":[-8,8],"nice":false},"axis":null},"x2":{"field":"tb"},"y2":{"field":"vb"}}},
   {"data": {"values": [{"ta":2.27,"va":-6.7,"tb":2.664,"vb":6.6}]},
    "mark": {"type":"point","shape":"M0,0L0.6,2L0,1.65L-0.6,2Z","size":144,"filled":true,"opacity":1,"color":"#111","strokeWidth":0,"angle":7.27},
    "encoding": {"x":{"field":"tb","type":"quantitative","scale":{"domain":[0,4.5],"nice":false},"axis":null},"y":{"field":"vb","type":"quantitative","scale":{"domain":[-8,8],"nice":false},"axis":null}}},
   {"data": {"values": [{"ta":2.27,"va":-6.7,"tb":2.664,"vb":6.6}]},
    "mark": {"type":"point","shape":"M0,0L0.6,2L0,1.65L-0.6,2Z","size":144,"filled":true,"opacity":1,"color":"#111","strokeWidth":0,"angle":187.27},
    "encoding": {"x":{"field":"ta","type":"quantitative","scale":{"domain":[0,4.5],"nice":false},"axis":null},"y":{"field":"va","type":"quantitative","scale":{"domain":[-8,8],"nice":false},"axis":null}}},
   {"data": {"values": [{"label":"stable region border","t":2.64,"v":4.83}]},
    "mark": {"type":"text","font":"Liberation Sans","fontSize":14.5,"align":"left","baseline":"middle","color":"#111"},
    "encoding": {"x":{"field":"t","type":"quantitative","scale":{"domain":[0,4.5],"nice":false},"axis":null},"y":{"field":"v","type":"quantitative","scale":{"domain":[-8,8],"nice":false},"axis":null},"text":{"field":"label"}}},
   {"data": {"values": [{"label":"A","t":-0.416,"v":7.36}]},
    "mark": {"type":"text","font":"Liberation Sans","fontSize":25,"fontWeight":"bold","align":"center","baseline":"alphabetic","color":"#000"},
    "encoding": {"x":{"field":"t","type":"quantitative","scale":{"domain":[0,4.5],"nice":false},"axis":null},"y":{"field":"v","type":"quantitative","scale":{"domain":[-8,8],"nice":false},"axis":null},"text":{"field":"label"}}},
   {"data": {"values": [{"t":0,"v":0}]},
    "mark": {"type":"point","opacity":0},
    "encoding": {"x":{"field":"t","type":"quantitative","scale":{"domain":[0,4.5],"nice":false},"axis":{"orient":"top","values":[0,0.5,1,1.5,2,2.5,3,3.5,4,4.5],"labels":false,"title":null}},"y":{"field":"v","type":"quantitative","scale":{"domain":[-8,8],"nice":false},"axis":{"orient":"right","values":[-8,-6,-4,-2,0,2,4,6,8],"labels":false,"title":null}}}}
 ],
 "resolve": {"scale": {"x":"independent","y":"independent"}}
},
{"width": 376, "height": 320,
 "layer": [
   {"data": {"name":"C"},
    "mark": {"type":"line","strokeWidth":1.6},
    "encoding": {
     "x":{"field":"t","type":"quantitative","scale":{"domain":[0,4.5],"nice":false},"axis":{"orient":"bottom","title":"Time/s","values":[0,0.5,1,1.5,2,2.5,3,3.5,4,4.5],"labelExpr":"'' + datum.value","labelPadding":10,"labelFont":"DejaVu Sans","titleFont":"DejaVu Sans","titleFontSize":14.5,"titlePadding":6,"labelColor":"#444"}},
     "y":{"field":"v","type":"quantitative","scale":{"domain":[-8,8],"nice":false},"axis":{"orient":"left","title":"Left foot CoP/cm","values":[-8,-6,-4,-2,0,2,4,6,8],"labelExpr":"'' + datum.value","labelPadding":9,"labelFont":"DejaVu Sans","titleFont":"DejaVu Sans","titleFontSize":14,"titlePadding":3,"labelColor":"#444"}},
     "color":{"field":"series","type":"nominal","scale":{"domain":["250N","300N","350N"],"range":["#2525b8","#ff2ed0","#111111"]},"legend":{"orient":"none","legendX":58,"legendY":178,"title":null,"symbolType":"M-2,0H2","symbolSize":306,"symbolOffset":7,"symbolStrokeWidth":1.8,"labelFont":"DejaVu Sans","labelFontSize":14,"labelColor":"#222","rowPadding":0,"labelOffset":10,"padding":0}},
     "strokeDash":{"field":"series","type":"nominal","scale":{"domain":["250N","300N","350N"],"range":[[5,2.5,1.5,2.5],[1,0],[6,4]]}}}},
   {"data": {"values": [{"t0":0.02,"t1":4.04,"v":7},{"t0":0.02,"t1":4.04,"v":-7}]},
    "mark": {"type":"rule","color":"#00e600","strokeWidth":2,"strokeDash":[6,5]},
    "encoding": {"x":{"field":"t0","type":"quantitative","scale":{"domain":[0,4.5],"nice":false},"axis":null},"x2":{"field":"t1"},"y":{"field":"v","type":"quantitative","scale":{"domain":[-8,8],"nice":false},"axis":null}}},
   {"data": {"values": [{"ta":1.92,"va":-5.75,"tb":2.386,"vb":5.55}]},
    "mark": {"type":"rule","color":"#111","strokeWidth":1},
    "encoding": {"x":{"field":"ta","type":"quantitative","scale":{"domain":[0,4.5],"nice":false},"axis":null},"y":{"field":"va","type":"quantitative","scale":{"domain":[-8,8],"nice":false},"axis":null},"x2":{"field":"tb"},"y2":{"field":"vb"}}},
   {"data": {"values": [{"ta":1.92,"va":-5.75,"tb":2.386,"vb":5.55}]},
    "mark": {"type":"point","shape":"M0,0L0.6,2L0,1.65L-0.6,2Z","size":144,"filled":true,"opacity":1,"color":"#111","strokeWidth":0,"angle":9.77},
    "encoding": {"x":{"field":"tb","type":"quantitative","scale":{"domain":[0,4.5],"nice":false},"axis":null},"y":{"field":"vb","type":"quantitative","scale":{"domain":[-8,8],"nice":false},"axis":null}}},
   {"data": {"values": [{"ta":1.92,"va":-5.75,"tb":2.386,"vb":5.55}]},
    "mark": {"type":"point","shape":"M0,0L0.6,2L0,1.65L-0.6,2Z","size":144,"filled":true,"opacity":1,"color":"#111","strokeWidth":0,"angle":189.77},
    "encoding": {"x":{"field":"ta","type":"quantitative","scale":{"domain":[0,4.5],"nice":false},"axis":null},"y":{"field":"va","type":"quantitative","scale":{"domain":[-8,8],"nice":false},"axis":null}}},
   {"data": {"values": [{"label":"stable region border","t":2.48,"v":4.2}]},
    "mark": {"type":"text","font":"DejaVu Sans","fontSize":14,"align":"left","baseline":"middle","color":"#222"},
    "encoding": {"x":{"field":"t","type":"quantitative","scale":{"domain":[0,4.5],"nice":false},"axis":null},"y":{"field":"v","type":"quantitative","scale":{"domain":[-8,8],"nice":false},"axis":null},"text":{"field":"label"}}},
   {"data": {"values": [{"label":"C","t":-0.425,"v":8.6}]},
    "mark": {"type":"text","font":"Liberation Sans","fontSize":25,"fontWeight":"bold","align":"center","baseline":"alphabetic","color":"#000"},
    "encoding": {"x":{"field":"t","type":"quantitative","scale":{"domain":[0,4.5],"nice":false},"axis":null},"y":{"field":"v","type":"quantitative","scale":{"domain":[-8,8],"nice":false},"axis":null},"text":{"field":"label"}}},
   {"data": {"values": [{"t":0,"v":0}]},
    "mark": {"type":"point","opacity":0},
    "encoding": {"x":{"field":"t","type":"quantitative","scale":{"domain":[0,4.5],"nice":false},"axis":{"orient":"top","values":[0,0.5,1,1.5,2,2.5,3,3.5,4,4.5],"labels":false,"title":null}},"y":{"field":"v","type":"quantitative","scale":{"domain":[-8,8],"nice":false},"axis":{"orient":"right","values":[-8,-6,-4,-2,0,2,4,6,8],"labels":false,"title":null}}}}
 ],
 "resolve": {"scale": {"x":"independent","y":"independent"}}
}
], "spacing": 5, "resolve": {"scale": {"x": "independent", "y": "independent", "color": "independent", "strokeDash": "independent"}}},
{"vconcat": [
{"width": 391, "height": 311,
 "layer": [
   {"data": {"name":"B"},
    "mark": {"type":"line","strokeWidth":2},
    "encoding": {
     "x":{"field":"t","type":"quantitative","scale":{"domain":[0,4.5],"nice":false},"axis":{"orient":"bottom","title":"Time/s","values":[0,0.5,1,1.5,2,2.5,3,3.5,4,4.5],"labelExpr":"'' + datum.value","labelPadding":11,"labelFont":"Liberation Sans","titleFont":"Liberation Sans","titleFontSize":15,"titlePadding":5}},
     "y":{"field":"v","type":"quantitative","scale":{"domain":[-15,15],"nice":false},"axis":{"orient":"left","title":"Foot CoP/cm","values":[-15,-10,-5,0,5,10,15],"labelExpr":"'' + datum.value","labelPadding":10,"labelFont":"Liberation Sans","titleFont":"Liberation Sans","titleFontSize":14,"titlePadding":5}},
     "color":{"field":"series","type":"nominal","scale":{"domain":["left foot CoP (forward)","right foot CoP (forward)"],"range":["#1515e8","#ff00ff"]},"legend":{"orient":"none","legendX":12,"legendY":42,"title":null,"symbolType":"M-2,0H2","symbolSize":272,"symbolOffset":7,"symbolStrokeWidth":2,"labelFont":"Liberation Sans","labelFontSize":12.5,"labelColor":"#111","rowPadding":-2.6,"labelOffset":10,"padding":0}},
     "strokeDash":{"field":"series","type":"nominal","scale":{"domain":["left foot CoP (forward)","right foot CoP (forward)"],"range":[[1,0],[6,2.5,2,2.5]]}}}},
   {"data": {"values": [{"t0":0.05,"t1":4.11,"v":11},{"t0":0.05,"t1":4.11,"v":-11}]},
    "mark": {"type":"rule","color":"#00e600","strokeWidth":2,"strokeDash":[9,6]},
    "encoding": {"x":{"field":"t0","type":"quantitative","scale":{"domain":[0,4.5],"nice":false},"axis":null},"x2":{"field":"t1"},"y":{"field":"v","type":"quantitative","scale":{"domain":[-15,15],"nice":false},"axis":null}}},
   {"data": {"values": [{"ta":2.52,"va":-10.7,"tb":2.935,"vb":10.7}]},
    "mark": {"type":"rule","color":"#111","strokeWidth":1},
    "encoding": {"x":{"field":"ta","type":"quantitative","scale":{"domain":[0,4.5],"nice":false},"axis":null},"y":{"field":"va","type":"quantitative","scale":{"domain":[-15,15],"nice":false},"axis":null},"x2":{"field":"tb"},"y2":{"field":"vb"}}},
   {"data": {"values": [{"ta":2.52,"va":-10.7,"tb":2.935,"vb":10.7}]},
    "mark": {"type":"point","shape":"M0,0L0.6,2L0,1.65L-0.6,2Z","size":144,"filled":true,"opacity":1,"color":"#111","strokeWidth":0,"angle":9.23},
    "encoding": {"x":{"field":"tb","type":"quantitative","scale":{"domain":[0,4.5],"nice":false},"axis":null},"y":{"field":"vb","type":"quantitative","scale":{"domain":[-15,15],"nice":false},"axis":null}}},
   {"data": {"values": [{"ta":2.52,"va":-10.7,"tb":2.935,"vb":10.7}]},
    "mark": {"type":"point","shape":"M0,0L0.6,2L0,1.65L-0.6,2Z","size":144,"filled":true,"opacity":1,"color":"#111","strokeWidth":0,"angle":189.23},
    "encoding": {"x":{"field":"ta","type":"quantitative","scale":{"domain":[0,4.5],"nice":false},"axis":null},"y":{"field":"va","type":"quantitative","scale":{"domain":[-15,15],"nice":false},"axis":null}}},
   {"data": {"values": [{"label":"stable region border","t":2.92,"v":7.96}]},
    "mark": {"type":"text","font":"Liberation Sans","fontSize":13,"align":"left","baseline":"middle","color":"#111"},
    "encoding": {"x":{"field":"t","type":"quantitative","scale":{"domain":[0,4.5],"nice":false},"axis":null},"y":{"field":"v","type":"quantitative","scale":{"domain":[-15,15],"nice":false},"axis":null},"text":{"field":"label"}}},
   {"data": {"values": [{"label":"B","t":-0.53,"v":13.75}]},
    "mark": {"type":"text","font":"Liberation Sans","fontSize":25,"fontWeight":"bold","align":"center","baseline":"alphabetic","color":"#000"},
    "encoding": {"x":{"field":"t","type":"quantitative","scale":{"domain":[0,4.5],"nice":false},"axis":null},"y":{"field":"v","type":"quantitative","scale":{"domain":[-15,15],"nice":false},"axis":null},"text":{"field":"label"}}},
   {"data": {"values": [{"t":0,"v":0}]},
    "mark": {"type":"point","opacity":0},
    "encoding": {"x":{"field":"t","type":"quantitative","scale":{"domain":[0,4.5],"nice":false},"axis":{"orient":"top","values":[0,0.5,1,1.5,2,2.5,3,3.5,4,4.5],"labels":false,"title":null}},"y":{"field":"v","type":"quantitative","scale":{"domain":[-15,15],"nice":false},"axis":{"orient":"right","values":[-15,-10,-5,0,5,10,15],"labels":false,"title":null}}}}
 ],
 "resolve": {"scale": {"x":"independent","y":"independent"}}
},
{"width": 389, "height": 344,
 "layer": [
   {"data": {"name":"D"},
    "mark": {"type":"line","strokeWidth":1.6},
    "encoding": {
     "x":{"field":"t","type":"quantitative","scale":{"domain":[0,4.5],"nice":false},"axis":{"orient":"bottom","title":"Time/s","values":[0,0.5,1,1.5,2,2.5,3,3.5,4,4.5],"labelExpr":"'' + datum.value","labelPadding":12,"labelFont":"DejaVu Sans","titleFont":"DejaVu Sans","titleFontSize":14.5,"titlePadding":6,"labelColor":"#444"}},
     "y":{"field":"v","type":"quantitative","scale":{"domain":[-15,15],"nice":false},"axis":{"orient":"left","title":"Left foot CoP/cm","values":[-15,-10,-5,0,5,10,15],"labelExpr":"'' + datum.value","labelPadding":9,"labelFont":"DejaVu Sans","titleFont":"DejaVu Sans","titleFontSize":14,"titlePadding":6,"labelColor":"#444"}},
     "color":{"field":"series","type":"nominal","scale":{"domain":["250N","300N","350N"],"range":["#2525b8","#ff2ed0","#111111"]},"legend":{"orient":"none","legendX":20,"legendY":64,"title":null,"symbolType":"M-2,0H2","symbolSize":306,"symbolOffset":7,"symbolStrokeWidth":1.8,"labelFont":"DejaVu Sans","labelFontSize":14,"labelColor":"#222","rowPadding":0,"labelOffset":12,"padding":0}},
     "strokeDash":{"field":"series","type":"nominal","scale":{"domain":["250N","300N","350N"],"range":[[5,2.5,1.5,2.5],[1,0],[6,4]]}}}},
   {"data": {"values": [{"t0":0.04,"t1":4.04,"v":11},{"t0":0.04,"t1":4.04,"v":-11}]},
    "mark": {"type":"rule","color":"#00e600","strokeWidth":2,"strokeDash":[6,5]},
    "encoding": {"x":{"field":"t0","type":"quantitative","scale":{"domain":[0,4.5],"nice":false},"axis":null},"x2":{"field":"t1"},"y":{"field":"v","type":"quantitative","scale":{"domain":[-15,15],"nice":false},"axis":null}}},
   {"data": {"values": [{"ta":1.965,"va":-11.2,"tb":2.745,"vb":10.7}]},
    "mark": {"type":"rule","color":"#111","strokeWidth":1},
    "encoding": {"x":{"field":"ta","type":"quantitative","scale":{"domain":[0,4.5],"nice":false},"axis":null},"y":{"field":"va","type":"quantitative","scale":{"domain":[-15,15],"nice":false},"axis":null},"x2":{"field":"tb"},"y2":{"field":"vb"}}},
   {"data": {"values": [{"ta":1.965,"va":-11.2,"tb":2.745,"vb":10.7}]},
    "mark": {"type":"point","shape":"M0,0L0.6,2L0,1.65L-0.6,2Z","size":144,"filled":true,"opacity":1,"color":"#111","strokeWidth":0,"angle":15.03},
    "encoding": {"x":{"field":"tb","type":"quantitative","scale":{"domain":[0,4.5],"nice":false},"axis":null},"y":{"field":"vb","type":"quantitative","scale":{"domain":[-15,15],"nice":false},"axis":null}}},
   {"data": {"values": [{"ta":1.965,"va":-11.2,"tb":2.745,"vb":10.7}]},
    "mark": {"type":"point","shape":"M0,0L0.6,2L0,1.65L-0.6,2Z","size":144,"filled":true,"opacity":1,"color":"#111","strokeWidth":0,"angle":195.03},
    "encoding": {"x":{"field":"ta","type":"quantitative","scale":{"domain":[0,4.5],"nice":false},"axis":null},"y":{"field":"va","type":"quantitative","scale":{"domain":[-15,15],"nice":false},"axis":null}}},
   {"data": {"values": [{"label":"stable region border","t":2.78,"v":8.03}]},
    "mark": {"type":"text","font":"DejaVu Sans","fontSize":13.5,"align":"left","baseline":"middle","color":"#222"},
    "encoding": {"x":{"field":"t","type":"quantitative","scale":{"domain":[0,4.5],"nice":false},"axis":null},"y":{"field":"v","type":"quantitative","scale":{"domain":[-15,15],"nice":false},"axis":null},"text":{"field":"label"}}},
   {"data": {"values": [{"label":"D","t":-0.555,"v":14.13}]},
    "mark": {"type":"text","font":"Liberation Sans","fontSize":25,"fontWeight":"bold","align":"center","baseline":"alphabetic","color":"#000"},
    "encoding": {"x":{"field":"t","type":"quantitative","scale":{"domain":[0,4.5],"nice":false},"axis":null},"y":{"field":"v","type":"quantitative","scale":{"domain":[-15,15],"nice":false},"axis":null},"text":{"field":"label"}}},
   {"data": {"values": [{"t":0,"v":0}]},
    "mark": {"type":"point","opacity":0},
    "encoding": {"x":{"field":"t","type":"quantitative","scale":{"domain":[0,4.5],"nice":false},"axis":{"orient":"top","values":[0,0.5,1,1.5,2,2.5,3,3.5,4,4.5],"labels":false,"title":null}},"y":{"field":"v","type":"quantitative","scale":{"domain":[-15,15],"nice":false},"axis":{"orient":"right","values":[-15,-10,-5,0,5,10,15],"labels":false,"title":null}}}}
 ],
 "resolve": {"scale": {"x":"independent","y":"independent"}}
}
], "spacing": 0, "resolve": {"scale": {"x": "independent", "y": "independent", "color": "independent", "strokeDash": "independent"}}}
]
}
